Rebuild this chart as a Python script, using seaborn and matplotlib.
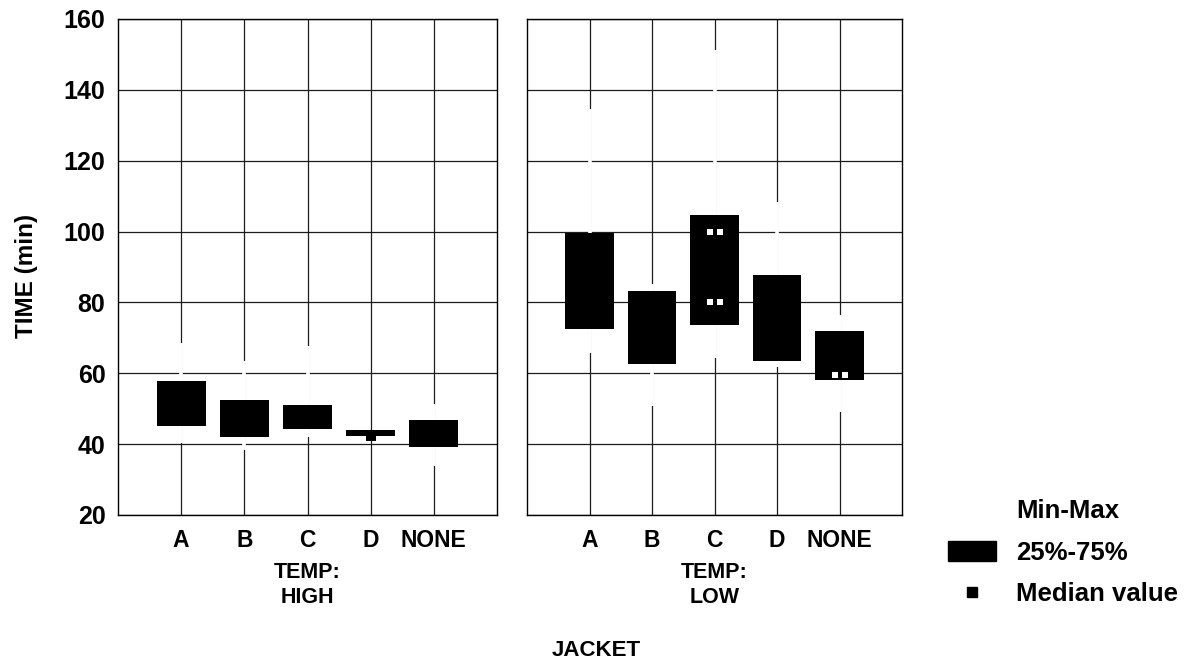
import numpy as np
import pandas as pd
import matplotlib
matplotlib.use("Agg")
import matplotlib.pyplot as plt
import matplotlib.colors as mcolors
import seaborn as sns
from matplotlib.patches import Patch
from matplotlib.lines import Line2D

# Jacket types and temperature conditions
jackets = ["A", "B", "C", "D", "NONE"]
temps = ["HIGH", "LOW"]

# Five-number summaries of TIME (min) per jacket, HIGH temperature
high_min = [40.4, 38.4, 41.9, 42.2, 33.7]
high_q25 = [45.0, 42.1, 44.2, 42.2, 39.3]
high_med = [51.0, 47.0, 47.5, 42.2, 43.0]
high_q75 = [57.8, 52.6, 51.0, 44.0, 46.9]
high_max = [68.6, 63.4, 67.6, 44.0, 51.3]

# Five-number summaries of TIME (min) per jacket, LOW temperature
low_min = [65.6, 50.7, 64.3, 61.9, 49.0]
low_q25 = [72.5, 62.6, 73.6, 63.4, 58.2]
low_med = [86.0, 72.0, 90.0, 75.0, 62.0]
low_q75 = [99.6, 83.1, 104.7, 87.8, 72.0]
low_max = [134.5, 85.3, 151.3, 108.3, 76.5]

# Small white marks printed on some of the boxes: (temp, jacket, time)
white_marks = [("LOW", "C", 100.0), ("LOW", "C", 80.0), ("LOW", "NONE", 59.6)]

y_ticks = [20, 40, 60, 80, 100, 120, 140, 160]

sns.set_theme(style="white")
plt.rcParams["font.family"] = ["Liberation Sans", "DejaVu Sans"]
plt.rcParams["font.weight"] = "bold"
plt.rcParams["text.color"] = "black"

# Long-form table: five points per box give exact quartiles
summaries = {
    "HIGH": (high_min, high_q25, high_med, high_q75, high_max),
    "LOW": (low_min, low_q25, low_med, low_q75, low_max),
}
rows = []
med_rows = []
for temp in temps:
    mins, q1s, meds, q3s, maxs = summaries[temp]
    for j, a, b, c, d, e in zip(jackets, mins, q1s, meds, q3s, maxs):
        for v in (a, b, c, d, e):
            rows.append({"TEMP": temp, "JACKET": j, "TIME": v})
        med_rows.append({"TEMP": temp, "JACKET": j, "TIME": c})
df = pd.DataFrame(rows)
med_df = pd.DataFrame(med_rows)

W, H = 1191, 664
fig = plt.figure(figsize=(W / 100, H / 100), dpi=100)
ax_boxes = [
    fig.add_axes([118 / W, 1 - 515 / H, 379 / W, 496 / H]),
    fig.add_axes([527 / W, 1 - 515 / H, 375 / W, 496 / H]),
]

for ax, temp in zip(ax_boxes, temps):
    sub = df[df["TEMP"] == temp]
    sns.boxplot(
        data=sub, x="JACKET", y="TIME", order=jackets, ax=ax,
        whis=(0, 100), width=0.78, color="black", linecolor="black",
        showcaps=False, showfliers=False,
        boxprops=dict(facecolor="black", edgecolor="black", linewidth=0),
        whiskerprops=dict(color="white", linewidth=2.6, solid_capstyle="butt"),
        medianprops=dict(linewidth=0),
    )
    # Min-max whiskers are white and sit above the grid, cutting the grid lines
    for ln in ax.lines:
        if mcolors.same_color(ln.get_color(), "white"):
            ln.set_linewidth(2.6)
            ln.set_zorder(2.5)
    for p in ax.patches:
        p.set_zorder(3)
    sns.stripplot(
        data=med_df[med_df["TEMP"] == temp], x="JACKET", y="TIME", order=jackets,
        jitter=False, marker="s", color="black", size=6.5, linewidth=0,
        ax=ax, zorder=6,
    )
    for t, j, v in white_marks:
        if t == temp:
            xi = jackets.index(j)
            ax.scatter([xi - 0.08, xi + 0.08], [v, v], marker="s", s=14,
                       color="white", linewidths=0, zorder=7)

    ax.set_axisbelow(True)
    ax.set_xlim(-1, 5)
    ax.set_ylim(20, 160)
    ax.set_yticks(y_ticks)
    ax.set_xticks(range(len(jackets)))
    ax.grid(True, color="#1c1c1c", linewidth=0.9, zorder=0)
    for s in ax.spines.values():
        s.set_visible(True)
        s.set_color("black")
        s.set_linewidth(1.0)
        s.set_zorder(4)
    ax.tick_params(axis="both", length=0)
    ax.tick_params(axis="x", pad=10)
    ax.set_xticklabels(jackets, fontsize=16.5, fontweight="bold", color="black")
    ax.set_ylabel("")
    ax.set_xlabel(f"TEMP:\n{temp}", fontsize=15.5, fontweight="bold",
                  color="black", labelpad=7, linespacing=1.3)

ax_boxes[0].tick_params(axis="y", pad=9)
ax_boxes[0].set_yticklabels([str(t) for t in y_ticks], fontsize=18,
                            fontweight="bold", color="black")
ax_boxes[1].tick_params(axis="y", labelleft=False)

fig.text(27 / W, 1 - 276 / H, "TIME (min)", rotation=90, ha="center", va="center",
         fontsize=17.5, fontweight="bold", color="black")
fig.text(596 / W, 1 - 650 / H, "JACKET", ha="center", va="center",
         fontsize=16, fontweight="bold", color="black")

handles = [
    Line2D([], [], color="white", linewidth=2),
    Patch(facecolor="black", edgecolor="black"),
    Line2D([], [], marker="s", color="black", linestyle="none", markersize=6.5),
]
fig.legend(handles, ["Min-Max", "25%-75%", "Median value"],
           loc="upper left", bbox_to_anchor=(948 / W, 1 - 499 / H),
           frameon=False, prop=dict(size=18.5, weight="bold"),
           labelcolor="black",
           handlelength=1.85, handleheight=0.85,
           labelspacing=0.68, handletextpad=0.8, borderaxespad=0, borderpad=0)

fig.savefig("out.png", dpi=100, facecolor="white")
